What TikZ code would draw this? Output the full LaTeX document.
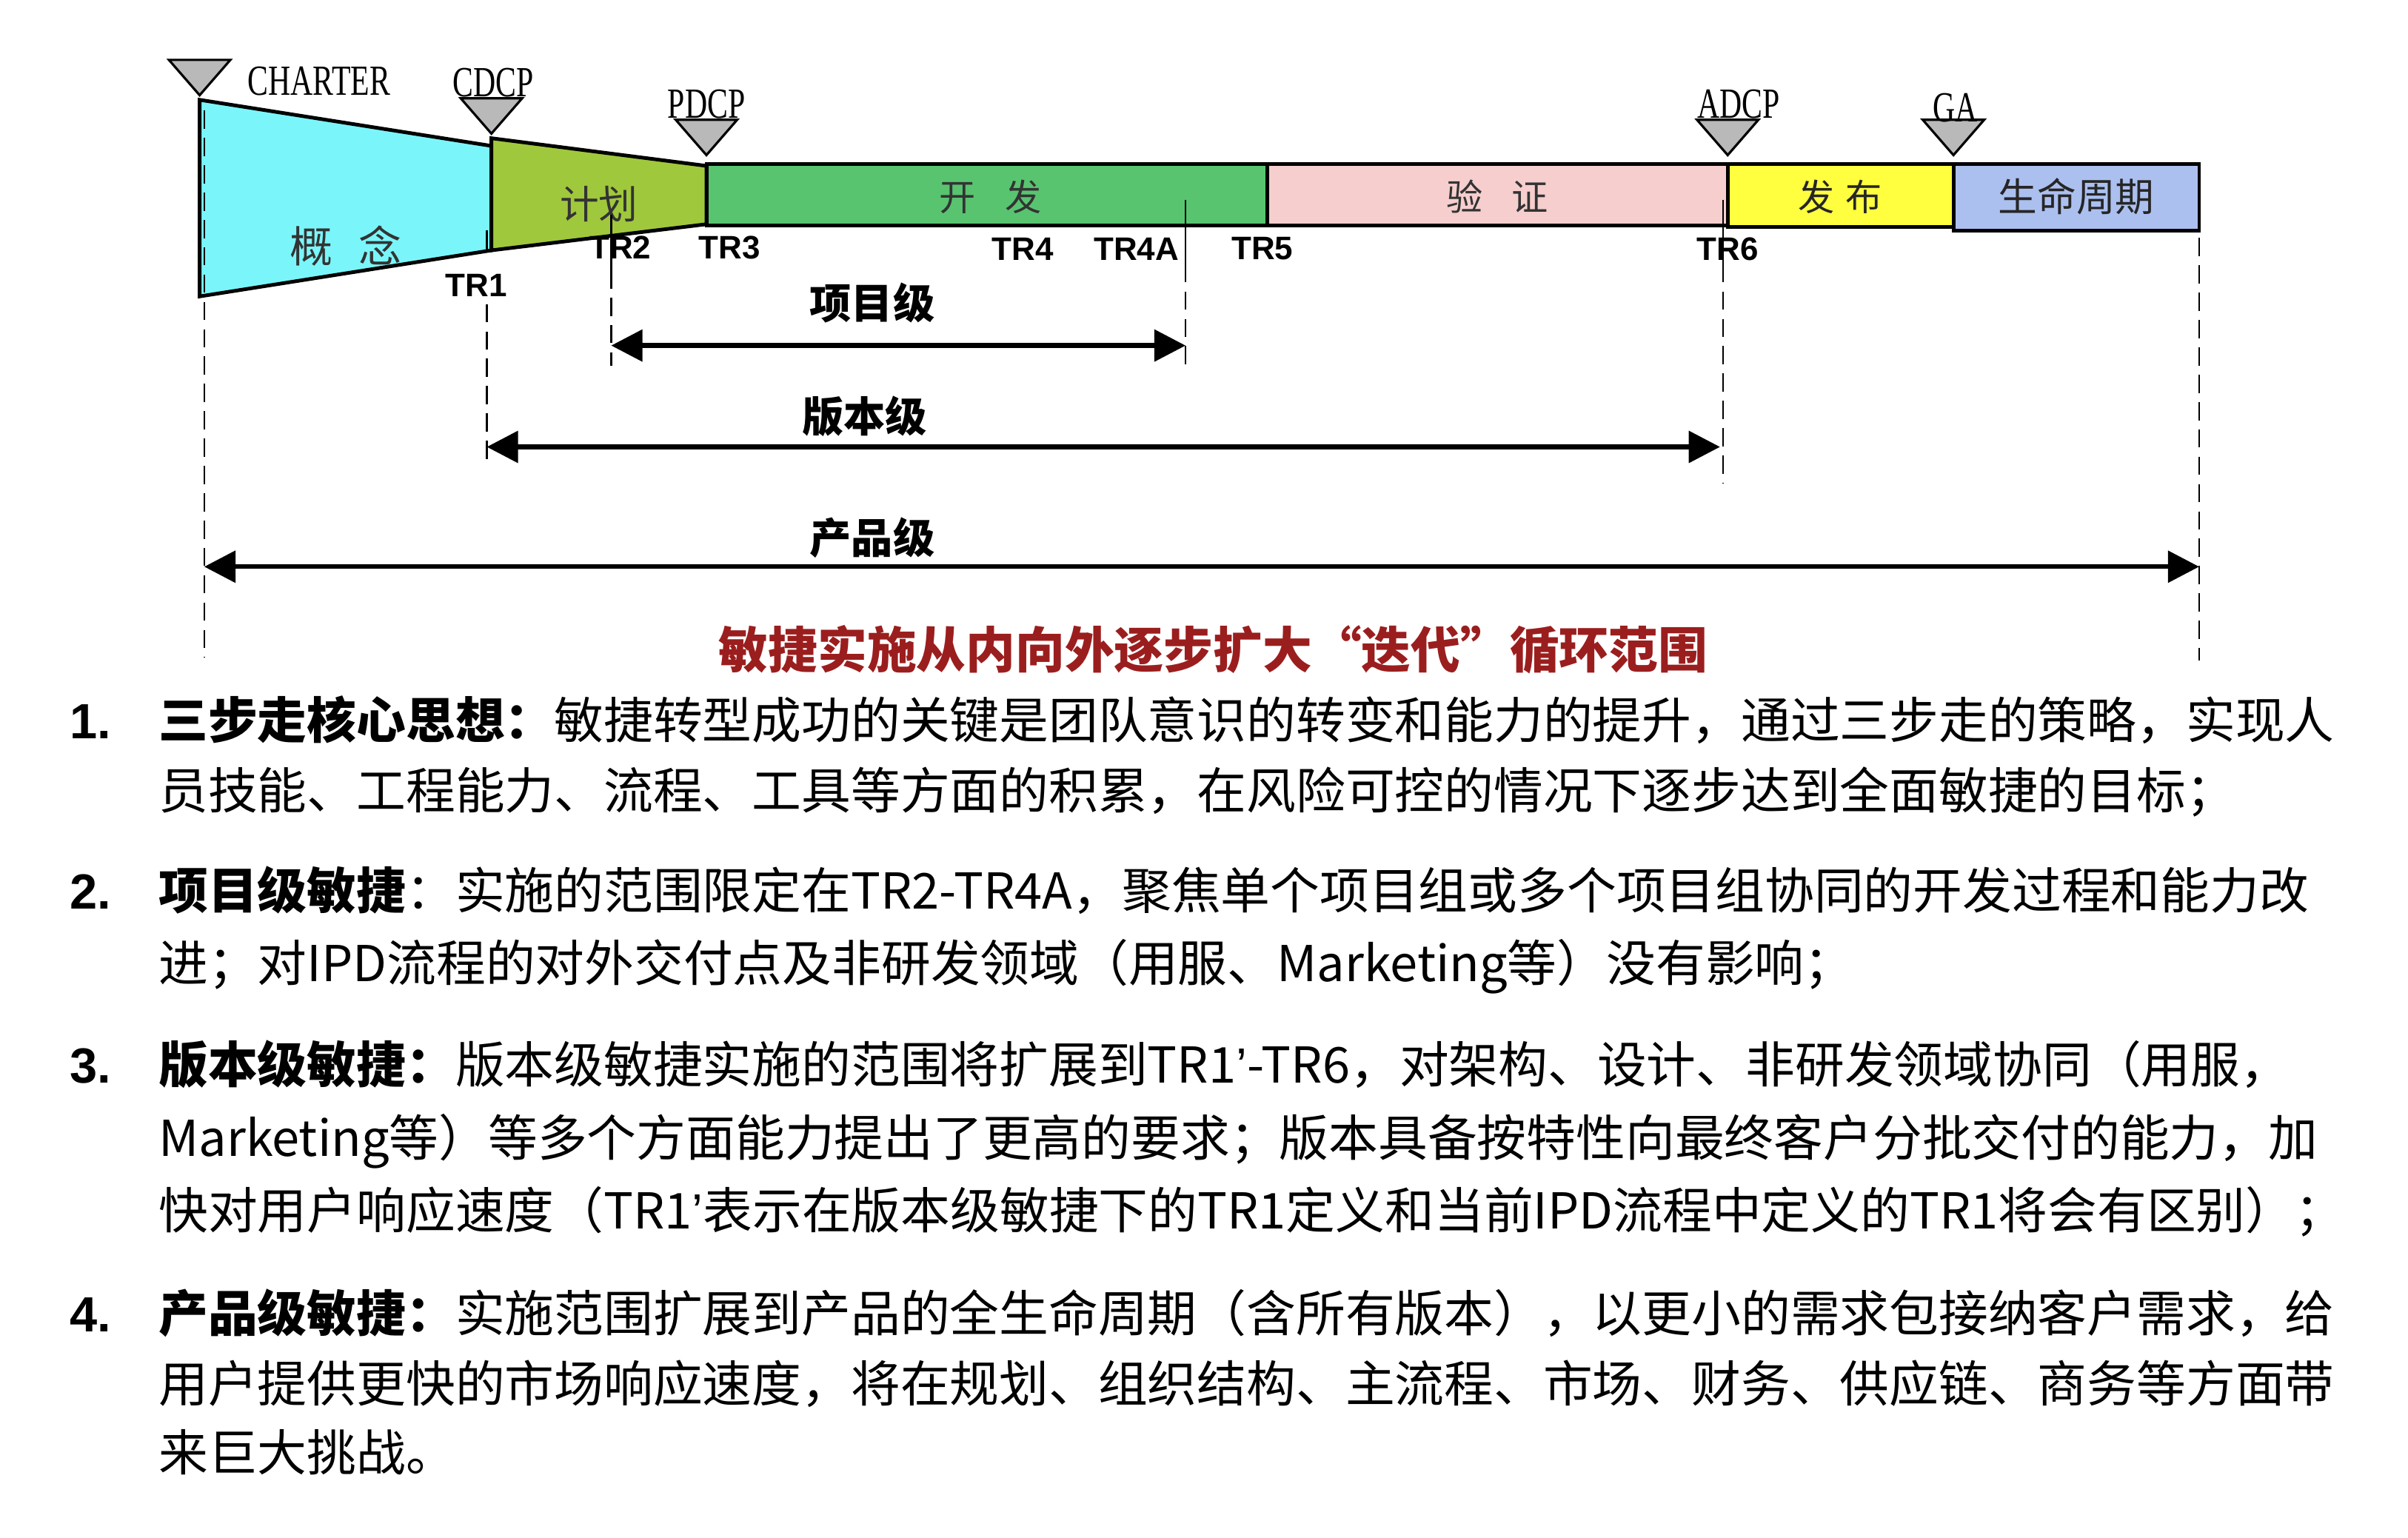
\documentclass[tikz,border=0pt]{standalone}
\usepackage{fontspec}
\setmainfont{Noto Sans CJK SC}
\newfontfamily\gatefont[FakeStretch=0.72]{Liberation Serif}
\newfontfamily\trfont{Liberation Sans}
\usepackage{xcolor}
\usepackage{tikz}
\usetikzlibrary{arrows.meta}
\definecolor{concept}{RGB}{122,246,250}
\definecolor{plan}{RGB}{160,200,60}
\definecolor{develop}{RGB}{88,196,112}
\definecolor{verify}{RGB}{246,206,206}
\definecolor{release}{RGB}{255,255,64}
\definecolor{lifecycle}{RGB}{172,192,240}
\definecolor{capred}{RGB}{155,30,30}
\newcommand{\prm}{{\trfont ’}}
\tikzset{
  phase/.style      = {draw=black, line width=1.4pt, line join=miter},
  gate/.style       = {draw=black, fill=gray!55, line width=0.9pt},
  gatelab/.style    = {font=\gatefont\fontsize{16.5}{16.5}\selectfont, inner sep=0pt},
  trlab/.style      = {font=\trfont\bfseries\fontsize{12.5}{12.5}\selectfont, inner sep=0pt},
  phlab/.style      = {font=\fontsize{14}{14}\selectfont, text=black!80, inner sep=0pt},
  guide/.style      = {line width=0.6pt, dash pattern=on 7pt off 3.5pt},
  tick/.style       = {line width=0.6pt},
  levelarrow/.style = {line width=1.8pt,
                       {Triangle[length=12pt,width=12pt]}-{Triangle[length=12pt,width=12pt]}},
  levellab/.style   = {font=\bfseries\fontsize{16}{16}\selectfont, inner sep=0pt},
  body/.style       = {anchor=base west, inner sep=0pt, font=\fontsize{19}{19}\selectfont},
  itemno/.style     = {anchor=base west, inner sep=0pt, font=\trfont\bfseries\fontsize{19}{19}\selectfont},
}

\begin{document}
\begin{tikzpicture}[x=0.2074mm, y=-0.2074mm]
  \useasboundingbox (0,0) rectangle (1568,1001);

  % phases
  \filldraw[phase, fill=concept] (130,65) -- (320,95) -- (320,163) -- (130,193) -- cycle;
  \filldraw[phase, fill=plan] (320,90) -- (460,108) -- (460,146) -- (320,163) -- cycle;
  \filldraw[phase, fill=develop] (460,107) rectangle (825,147);
  \filldraw[phase, fill=verify] (825,107) rectangle (1125,147);
  \filldraw[phase, fill=release] (1125,107) rectangle (1272,148);
  \filldraw[phase, fill=lifecycle] (1272,107) rectangle (1432,150);

  \node[phlab, font=\fontsize{16.5}{16.5}\selectfont] (concept) at (225,160) {概\hspace{0.6em}念};
  \node[phlab, font=\fontsize{15}{15}\selectfont] (plan) at (390,133) {计划};
  \node[phlab] (develop) at (645,128) {开\hspace{0.8em}发};
  \node[phlab] (verify) at (975,128) {验\hspace{0.8em}证};
  \node[phlab, text=black!85] (release) at (1198,128) {发\hspace{0.3em}布};
  \node[phlab, text=black!85, font=\fontsize{15}{15}\selectfont] (life) at (1352,128) {生命周期};

  % decision points
  \foreach \x/\y in {130/39, 320/64, 460/78, 1125/78, 1272/78}
    \filldraw[gate] (\x-20,\y) -- (\x+20,\y) -- (\x,\y+23) -- cycle;
  \node[gatelab, anchor=west] (charter) at (161,53) {CHARTER};
  \node[gatelab] (cdcp) at (321,54) {CDCP};
  \node[gatelab] (pdcp) at (460,68) {PDCP};
  \node[gatelab] (adcp) at (1132,68) {ADCP};
  \node[gatelab] (ga) at (1273,70) {GA};

  % technical reviews
  \node[trlab] (tr1) at (310,186) {TR1};
  \node[trlab] (tr2) at (404,161) {TR2};
  \node[trlab] (tr3) at (475,161) {TR3};
  \node[trlab] (tr4) at (666,162) {TR4};
  \node[trlab] (tr4a) at (740,162) {TR4A};
  \node[trlab] (tr5) at (822,162) {TR5};
  \node[trlab] (tr6) at (1125,162) {TR6};

  % guide lines
  \coordinate (g0t) at (133,72);    \coordinate (g0b) at (133,428);
  \coordinate (g1t) at (317,198);   \coordinate (g1b) at (317,300);
  \coordinate (g2t) at (398,140);   \coordinate (g2m) at (398,176);   \coordinate (g2b) at (398,238);
  \coordinate (g4t) at (772,130);   \coordinate (g4m) at (772,172);   \coordinate (g4b) at (772,240);
  \coordinate (g6t) at (1122,130);  \coordinate (g6m) at (1122,172);  \coordinate (g6b) at (1122,315);
  \coordinate (g9t) at (1432,155);  \coordinate (g9b) at (1432,430);
  \draw[tick] (317,150) -- (317,164);
  \draw[tick] (g2t) -- (g2m);
  \draw[tick] (g4t) -- (g4m);
  \draw[tick] (g6t) -- (g6m);
  \draw[guide] (g0t) -- (g0b);
  \draw[guide] (g1t) -- (g1b);
  \draw[guide] (g2m) -- (g2b);
  \draw[guide] (g4m) -- (g4b);
  \draw[guide] (g6m) -- (g6b);
  \draw[guide] (g9t) -- (g9b);

  % scope levels
  \coordinate (pj-w) at (398,225);  \coordinate (pj-e) at (772,225);
  \coordinate (vr-w) at (317,291);  \coordinate (vr-e) at (1120,291);
  \coordinate (pd-w) at (133,369);  \coordinate (pd-e) at (1432,369);
  \draw[levelarrow] (pj-w) -- (pj-e);
  \draw[levelarrow] (vr-w) -- (vr-e);
  \draw[levelarrow] (pd-w) -- (pd-e);
  \node[levellab] (pjlab) at (568,197) {项目级};
  \node[levellab] (vrlab) at (563,271) {版本级};
  \node[levellab] (pdlab) at (568,350) {产品级};

  \node[font=\bfseries\fontsize{19}{19}\selectfont, text=capred, inner sep=0pt] (caption)
    at (790,423) {敏捷实施从内向外逐步扩大“迭代”循环范围};

  % notes
  \node[itemno] (n1) at (45,481) {1.};
  \node[body] (l1a) at (103,481) {\textbf{三步走核心思想：}敏捷转型成功的关键是团队意识的转变和能力的提升，通过三步走的策略，实现人};
  \node[body] (l1b) at (103,527) {员技能、工程能力、流程、工具等方面的积累，在风险可控的情况下逐步达到全面敏捷的目标；};
  \node[itemno] (n2) at (45,592) {2.};
  \node[body] (l2a) at (103,592) {\textbf{项目级敏捷}：实施的范围限定在TR2-TR4A，聚焦单个项目组或多个项目组协同的开发过程和能力改};
  \node[body] (l2b) at (103,639) {进；对IPD流程的对外交付点及非研发领域（用服、Marketing等）没有影响；};
  \node[itemno] (n3) at (45,705) {3.};
  \node[body] (l3a) at (103,705) {\textbf{版本级敏捷：}版本级敏捷实施的范围将扩展到TR1\prm-TR6，对架构、设计、非研发领域协同（用服，};
  \node[body] (l3b) at (103,753) {Marketing等）等多个方面能力提出了更高的要求；版本具备按特性向最终客户分批交付的能力，加};
  \node[body] (l3c) at (103,800) {快对用户响应速度（TR1\prm 表示在版本级敏捷下的TR1定义和当前IPD流程中定义的TR1将会有区别）；};
  \node[itemno] (n4) at (45,867) {4.};
  \node[body] (l4a) at (103,867) {\textbf{产品级敏捷：}实施范围扩展到产品的全生命周期（含所有版本），以更小的需求包接纳客户需求，给};
  \node[body] (l4b) at (103,913) {用户提供更快的市场响应速度，将在规划、组织结构、主流程、市场、财务、供应链、商务等方面带};
  \node[body] (l4c) at (103,958) {来巨大挑战。};
\end{tikzpicture}
\end{document}
